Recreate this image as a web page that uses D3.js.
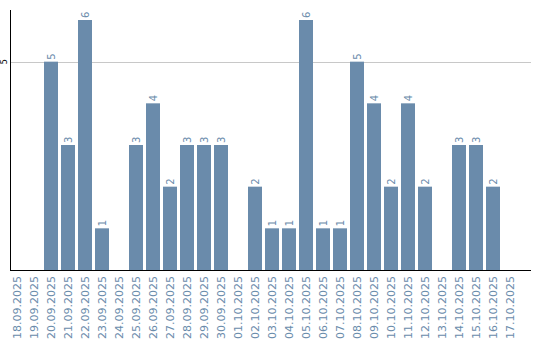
<!DOCTYPE html>
<html><head><meta charset="utf-8">
<script src="https://cdn.jsdelivr.net/npm/d3@7"></script>
<style>body{margin:0;background:#fff}svg{display:block}</style>
</head><body>
<svg id="c" width="540" height="340"></svg>
<script>
const categories = ["18.09.2025","19.09.2025","20.09.2025","21.09.2025","22.09.2025","23.09.2025","24.09.2025","25.09.2025","26.09.2025","27.09.2025","28.09.2025","29.09.2025","30.09.2025","01.10.2025","02.10.2025","03.10.2025","04.10.2025","05.10.2025","06.10.2025","07.10.2025","08.10.2025","09.10.2025","10.10.2025","11.10.2025","12.10.2025","13.10.2025","14.10.2025","15.10.2025","16.10.2025","17.10.2025"];
const values = [0,0,5,3,6,1,0,3,4,2,3,3,3,0,2,1,1,6,1,1,5,4,2,4,2,0,3,3,2,0];
const yTicks = [5];

const svg = d3.select("#c");
const barColor = "#6a8bab";
const plotLeft = 10, plotRight = 531, plotBottom = 270, plotTop = 20;

const x = d3.scaleBand().domain(categories).range([plotLeft, plotLeft + categories.length*17 - 3]).paddingInner(3/17).paddingOuter(0);
const y = d3.scaleLinear().domain([0, 6]).range([plotBottom, plotTop]);

// gridlines
svg.append("g").selectAll("line").data(yTicks).join("line")
  .attr("x1", plotLeft).attr("x2", plotRight)
  .attr("y1", d => Math.round(y(d)) + 0.5).attr("y2", d => Math.round(y(d)) + 0.5)
  .attr("stroke", "#c8c8c8").attr("stroke-width", 1);

// y tick labels
svg.append("g").selectAll("text").data(yTicks).join("text")
  .attr("transform", d => `translate(7,${y(d)}) rotate(-90)`)
  .attr("text-anchor", "middle")
  .attr("font-family", "DejaVu Sans").attr("font-size", 8).attr("fill", "#000")
  .text(d => d);

// bars
svg.append("g").selectAll("rect").data(values).join("rect")
  .attr("x", (d,i) => x(categories[i]))
  .attr("width", x.bandwidth())
  .attr("y", d => y(d))
  .attr("height", d => plotBottom - y(d))
  .attr("fill", barColor);

// value labels
svg.append("g").selectAll("text").data(values.map((v,i)=>({v,c:categories[i]})).filter(d=>d.v>0)).join("text")
  .attr("transform", d => `translate(${x(d.c) + x.bandwidth()/2 + 3.5},${y(d.v) - 2}) rotate(-90)`)
  .attr("text-anchor", "start")
  .attr("font-family", "DejaVu Sans").attr("font-size", 10).attr("fill", barColor)
  .text(d => d.v);

// axes lines
svg.append("line").attr("x1", plotLeft+0.5).attr("x2", plotLeft+0.5).attr("y1", 10).attr("y2", plotBottom+1)
  .attr("stroke", "#000").attr("stroke-width", 1);
svg.append("line").attr("x1", plotLeft).attr("x2", plotRight).attr("y1", plotBottom+0.5).attr("y2", plotBottom+0.5)
  .attr("stroke", "#000").attr("stroke-width", 1);

// x labels
svg.append("g").selectAll("text").data(categories).join("text")
  .attr("transform", d => `translate(${x(d) + x.bandwidth()/2 + 4},${276}) rotate(-90)`)
  .attr("text-anchor", "end")
  .attr("font-family", "DejaVu Sans").attr("font-size", 11).attr("fill", barColor)
  .text(d => d);
</script>
</body></html>
